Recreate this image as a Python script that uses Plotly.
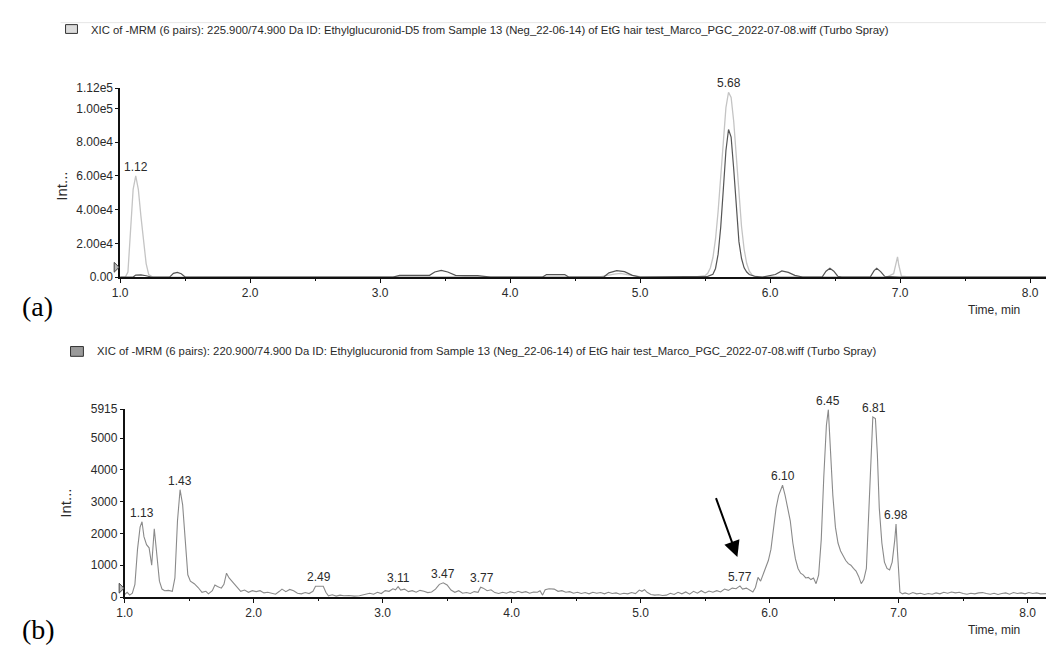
import plotly.graph_objects as go

# ---------------- Panel (a) data ----------------
t_a_light = [1.00, 1.04, 1.06, 1.08, 1.10, 1.12, 1.14, 1.16, 1.18, 1.20, 1.22, 1.25,
             2.00, 3.00, 4.00, 4.70, 4.80, 4.85, 4.90, 5.00, 5.44, 5.48,
             5.50, 5.52, 5.54, 5.56, 5.58, 5.60, 5.62, 5.64, 5.66, 5.68, 5.70, 5.72,
             5.74, 5.76, 5.78, 5.80, 5.82, 5.84, 5.86, 5.88, 5.92, 6.00,
             6.90, 6.95, 6.97, 6.98, 6.99, 7.01, 7.05, 8.15]
v_a_light = [0, 0, 3000, 25000, 52000, 60000, 52000, 36000, 20000, 8000, 1500, 0,
             200, 300, 300, 300, 1800, 2200, 1500, 300, 200, 400,
             800, 2200, 5400, 11600, 22600, 39000, 60000, 82000, 100500, 109600, 106500, 92300,
             71200, 49000, 30000, 16500, 8000, 3500, 1400, 500, 100, 200,
             200, 2000, 9000, 12000, 7000, 500, 200, 200]

t_a_dark = [1.00, 1.10, 1.12, 1.16, 1.20, 1.24, 1.38, 1.41, 1.44, 1.47, 1.50,
            3.10, 3.15, 3.30, 3.38, 3.42, 3.47, 3.52, 3.58, 3.65, 3.75, 3.85,
            4.25, 4.28, 4.42, 4.45, 4.72, 4.76, 4.82, 4.88, 4.94, 5.00,
            5.48, 5.52, 5.56, 5.58, 5.60, 5.62, 5.64, 5.66, 5.68, 5.70, 5.72, 5.74,
            5.76, 5.78, 5.80, 5.82, 5.84, 5.88, 5.94,
            6.04, 6.09, 6.14, 6.19, 6.25, 6.40, 6.43, 6.46, 6.49, 6.52, 6.55,
            6.77, 6.80, 6.82, 6.85, 6.88, 7.00, 8.15]
v_a_dark = [0, 0, 1200, 1300, 800, 0, 0, 2200, 2800, 2000, 0,
            0, 1000, 1200, 1000, 3000, 4000, 3000, 1000, 800, 800, 0,
            0, 1500, 1500, 0, 0, 2500, 3800, 3200, 1000, 0,
            0, 400, 1600, 5100, 13600, 29600, 52000, 75000, 87500, 83000, 64000, 40000,
            21000, 11000, 5500, 3000, 1500, 500, 0,
            1500, 3600, 2800, 1000, 0, 0, 3500, 5200, 3500, 500, 0,
            0, 3800, 5200, 3200, 500, 0, 0]

a_peak_x = [1.12, 5.68]
a_peak_y = [60000, 109600]
a_peak_lbl = ["1.12", "5.68"]

a_ytick_vals = [0, 20000, 40000, 60000, 80000, 100000, 112000]
a_ytick_text = ["0.00", "2.00e4", "4.00e4", "6.00e4", "8.00e4", "1.00e5", "1.12e5"]

# ---------------- Panel (b) data ----------------
t_b = [1.00, 1.02, 1.04, 1.06, 1.08, 1.10, 1.12, 1.135, 1.15, 1.17, 1.19, 1.21, 1.23, 1.25,
       1.27, 1.29, 1.31, 1.34, 1.37, 1.39, 1.41, 1.43, 1.45, 1.47, 1.49, 1.51, 1.54, 1.57,
       1.60, 1.63, 1.65, 1.68, 1.70, 1.72, 1.75, 1.77, 1.79, 1.81, 1.84, 1.87, 1.90, 1.93,
       1.96, 1.99, 2.02, 2.05, 2.08, 2.11, 2.14, 2.17, 2.20, 2.22, 2.25, 2.28, 2.31, 2.34,
       2.37, 2.40, 2.43, 2.46, 2.48, 2.51, 2.54, 2.56, 2.58, 2.61, 2.64, 2.67, 2.70, 2.74,
       2.78, 2.82, 2.86, 2.90, 2.93, 2.96, 2.99, 3.02, 3.05, 3.08, 3.10, 3.12, 3.14, 3.17,
       3.20, 3.23, 3.26, 3.29, 3.32, 3.35, 3.38, 3.41, 3.44, 3.47, 3.50, 3.53, 3.56, 3.59,
       3.62, 3.65, 3.68, 3.71, 3.74, 3.76, 3.78, 3.81, 3.84, 3.87, 3.90, 3.93, 3.96, 3.99,
       4.02, 4.05, 4.08, 4.11, 4.14, 4.17, 4.20, 4.22, 4.24, 4.26, 4.29, 4.33, 4.36, 4.39,
       4.42, 4.45, 4.48, 4.51, 4.54, 4.57, 4.60, 4.63, 4.66, 4.69, 4.72, 4.75, 4.78, 4.81,
       4.84, 4.87, 4.90, 4.93, 4.96, 4.99, 5.01, 5.03, 5.05, 5.08, 5.11, 5.14, 5.17, 5.20,
       5.23, 5.26, 5.29, 5.32, 5.35, 5.38, 5.41, 5.44, 5.47, 5.50, 5.53, 5.56, 5.59, 5.62,
       5.65, 5.68, 5.71, 5.74, 5.77, 5.79, 5.82, 5.85, 5.87, 5.89, 5.91, 5.93, 5.95, 5.97,
       5.99, 6.01, 6.03, 6.05, 6.07, 6.09, 6.10, 6.12, 6.14, 6.16, 6.18, 6.20, 6.22, 6.24,
       6.26, 6.28, 6.30, 6.32, 6.34, 6.36, 6.38, 6.40, 6.42, 6.44, 6.455, 6.47, 6.49, 6.51,
       6.53, 6.55, 6.57, 6.59, 6.61, 6.63, 6.65, 6.67, 6.69, 6.71, 6.73, 6.75, 6.77, 6.785,
       6.80, 6.82, 6.835, 6.85, 6.87, 6.89, 6.91, 6.93, 6.95, 6.97, 6.98, 6.99, 7.00, 7.01,
       7.03, 7.05, 7.08, 7.11, 7.14, 7.17, 7.20, 7.23, 7.26, 7.29, 7.32, 7.35, 7.38, 7.41,
       7.44, 7.47, 7.50, 7.53, 7.56, 7.59, 7.62, 7.65, 7.68, 7.71, 7.74, 7.77, 7.80, 7.83,
       7.86, 7.89, 7.92, 7.95, 7.98, 8.01, 8.04, 8.07, 8.10, 8.13, 8.15]
v_b = [80, 150, 60, 120, 400, 1500, 2200, 2370, 1900, 1650, 1550, 1000, 2150, 1200,
       500, 250, 200, 210, 180, 600, 2400, 3380, 2900, 1800, 700, 500, 420, 300,
       150, 180, 100, 200, 380, 330, 280, 400, 750, 600, 450, 300, 180, 220,
       150, 200, 170, 200, 130, 150, 110, 90, 180, 250, 170, 240, 200, 120,
       100, 140, 110, 180, 340, 350, 340, 150, 40, 70, 30, 60, 40, 50,
       30, 40, 80, 120, 90, 150, 110, 200, 180, 260, 230, 330, 220, 250,
       170, 200, 150, 210, 180, 140, 160, 250, 400, 450, 380, 220, 150, 200,
       120, 140, 110, 170, 150, 310, 280, 200, 230, 140, 110, 150, 120, 170,
       130, 180, 140, 170, 120, 160, 150, 200, 60, 230, 260, 250, 180, 200,
       150, 170, 120, 150, 110, 140, 100, 150, 120, 140, 100, 150, 110, 130,
       90, 120, 100, 140, 110, 220, 180, 230, 150, 80, 60, 70, 50, 60,
       120, 80, 150, 100, 160, 90, 180, 120, 200, 130, 190, 150, 200, 160,
       250, 210, 280, 260, 350, 250, 280, 200, 160, 300, 620, 500, 700, 950,
       1150, 1500, 2200, 2800, 3200, 3450, 3520, 3200, 2850, 2400, 1700, 1200, 900, 750,
       700, 600, 620, 550, 600, 420, 700, 1800, 3800, 5400, 5900, 4800, 3200, 2200,
       1700, 1450, 1300, 1150, 1050, 1000, 900, 820, 650, 420, 550, 900, 2800, 4500,
       5670, 5620, 4500, 2800, 1700, 1100, 900, 850, 1100, 1800, 2300, 1500, 600, 150,
       100, 130, 90, 140, 100, 120, 80, 110, 90, 130, 100, 150, 120, 160,
       130, 150, 110, 90, 120, 100, 130, 140, 110, 90, 120, 80, 110, 130,
       90, 140, 110, 130, 100, 140, 110, 130, 100, 120, 110]

b_peak_x = [1.135, 1.43, 2.51, 3.12, 3.47, 3.77, 5.77, 6.10, 6.455, 6.81, 6.98]
b_peak_y = [2370, 3380, 350, 330, 450, 310, 350, 3520, 5900, 5670, 2300]
b_peak_lbl = ["1.13", "1.43", "2.49", "3.11", "3.47", "3.77", "5.77", "6.10", "6.45", "6.81", "6.98"]

b_ytick_vals = [0, 1000, 2000, 3000, 4000, 5000, 5915]
b_ytick_text = ["0", "1000", "2000", "3000", "4000", "5000", "5915"]

x_tick_vals = [1, 2, 3, 4, 5, 6, 7, 8]
x_tick_text = ["1.0", "2.0", "3.0", "4.0", "5.0", "6.0", "7.0", "8.0"]

title_a = ("XIC of -MRM (6 pairs): 225.900/74.900 Da ID: Ethylglucuronid-D5 from Sample 13 "
           "(Neg_22-06-14) of EtG hair test_Marco_PGC_2022-07-08.wiff (Turbo Spray)")
title_b = ("XIC of -MRM (6 pairs): 220.900/74.900 Da ID: Ethylglucuronid from Sample 13 "
           "(Neg_22-06-14) of EtG hair test_Marco_PGC_2022-07-08.wiff (Turbo Spray)")

# ---------------- Layout helpers ----------------
W, H = 1046, 651
def px(x):
    return x / W
def py(y):
    return 1 - y / H

FONT = "Liberation Sans, Arial, sans-serif"
SERIF = "Liberation Serif, Times New Roman, serif"
TXT = "#2a2a2a"

fig = go.Figure()

fig.add_trace(go.Scatter(x=t_a_light, y=v_a_light, mode="lines", xaxis="x", yaxis="y",
                         line=dict(color="#c4c4c4", width=1.3), hoverinfo="skip"))
fig.add_trace(go.Scatter(x=t_a_dark, y=v_a_dark, mode="lines", xaxis="x", yaxis="y",
                         line=dict(color="#555555", width=1.2), hoverinfo="skip"))
fig.add_trace(go.Scatter(x=t_b, y=v_b, mode="lines", xaxis="x2", yaxis="y2",
                         line=dict(color="#8a8a8a", width=1.1), hoverinfo="skip"))

xa0, xa_ppm = 113, 131.0
xb0, xb_ppm = 117.5, 130.0

common_x = dict(showgrid=False, zeroline=False, showline=True, linecolor="#111",
                linewidth=2, ticks="outside", ticklen=4, tickwidth=1, tickcolor="#111",
                tickvals=x_tick_vals, ticktext=x_tick_text,
                tickfont=dict(family=FONT, size=12, color=TXT),
                minor=dict(tickvals=[1.5, 2.5, 3.5, 4.5, 5.5, 6.5, 7.5], ticks="outside",
                           ticklen=2, tickcolor="#111"))
common_y = dict(showgrid=False, zeroline=False, showline=True, linecolor="#111",
                linewidth=1.5, ticks="outside", ticklen=3, tickwidth=1, tickcolor="#111",
                tickfont=dict(family=FONT, size=12, color=TXT))

fig.update_layout(
    width=W, height=H, margin=dict(l=0, r=0, t=0, b=0),
    paper_bgcolor="white", plot_bgcolor="white", showlegend=False,
    xaxis=dict(domain=[px(xa0), 1], range=[1, 1 + (W - xa0) / xa_ppm], anchor="y", **common_x),
    yaxis=dict(domain=[py(276), py(83)], range=[0, 112000], anchor="x",
               tickvals=a_ytick_vals, ticktext=a_ytick_text, **common_y),
    xaxis2=dict(domain=[px(xb0), 1], range=[1, 1 + (W - xb0) / xb_ppm], anchor="y2", **common_x),
    yaxis2=dict(domain=[py(603), py(411)], range=[0, 5915], anchor="x2",
                tickvals=b_ytick_vals, ticktext=b_ytick_text, **common_y),
)

ann = []
for x, y, s in zip(a_peak_x, a_peak_y, a_peak_lbl):
    ann.append(dict(x=x, y=y, xref="x", yref="y", text=s, showarrow=False,
                    yanchor="bottom", yshift=0, font=dict(family=FONT, size=12, color=TXT)))
for x, y, s in zip(b_peak_x, b_peak_y, b_peak_lbl):
    ann.append(dict(x=x, y=y, xref="x2", yref="y2", text=s, showarrow=False,
                    yanchor="bottom", yshift=0, font=dict(family=FONT, size=12, color=TXT)))

# arrow pointing at 5.77
ann.append(dict(x=5.75, y=1260, xref="x2", yref="y2", ax=5.58, ay=3160, axref="x2", ayref="y2",
                text="", showarrow=True, arrowhead=2, arrowsize=1.6, arrowwidth=2,
                arrowcolor="#000"))

# titles
ann.append(dict(x=px(82), y=py(23), xref="paper", yref="paper", text=title_a, showarrow=False,
                xanchor="left", yanchor="middle", font=dict(family=FONT, size=11.3, color=TXT)))
ann.append(dict(x=px(88), y=py(352), xref="paper", yref="paper", text=title_b, showarrow=False,
                xanchor="left", yanchor="middle", font=dict(family=FONT, size=11.3, color=TXT)))

# y titles
ann.append(dict(x=px(53), y=py(183), xref="paper", yref="paper", text="Int...", showarrow=False,
                textangle=-90, xanchor="center", yanchor="middle",
                font=dict(family=FONT, size=15, color=TXT)))
ann.append(dict(x=px(58), y=py(507), xref="paper", yref="paper", text="Int...", showarrow=False,
                textangle=-90, xanchor="center", yanchor="middle",
                font=dict(family=FONT, size=15, color=TXT)))

# x titles
ann.append(dict(x=px(1022), y=py(310), xref="paper", yref="paper", text="Time, min", showarrow=False,
                xanchor="right", yanchor="middle", font=dict(family=FONT, size=12, color=TXT)))
ann.append(dict(x=px(1022), y=py(637), xref="paper", yref="paper", text="Time, min", showarrow=False,
                xanchor="right", yanchor="middle", font=dict(family=FONT, size=12, color=TXT)))

# panel letters
ann.append(dict(x=px(12), y=py(306), xref="paper", yref="paper", text="(a)", showarrow=False,
                xanchor="left", yanchor="middle", font=dict(family=SERIF, size=28, color="#000")))
ann.append(dict(x=px(12), y=py(636), xref="paper", yref="paper", text="(b)", showarrow=False,
                xanchor="left", yanchor="middle", font=dict(family=SERIF, size=28, color="#000")))

fig.update_layout(annotations=ann)

shapes = []
# faint top rule
shapes.append(dict(type="line", xref="paper", yref="paper", x0=px(53), x1=1, y0=py(16), y1=py(16),
                   line=dict(color="#e6e6e6", width=1)))
# legend boxes
shapes.append(dict(type="rect", xref="paper", yref="paper", x0=px(58), x1=px(70), y0=py(27), y1=py(18),
                   fillcolor="#dcdcdc", line=dict(color="#333", width=1)))
shapes.append(dict(type="rect", xref="paper", yref="paper", x0=px(63), x1=px(76), y0=py(357), y1=py(347),
                   fillcolor="#9a9a9a", line=dict(color="#333", width=1)))
# small baseline triangles
shapes.append(dict(type="path", xref="paper", yref="paper",
                   path=f"M {px(107)},{py(261)} L {px(112)},{py(266)} L {px(107)},{py(271)} Z",
                   fillcolor="#bbbbbb", line=dict(color="#444", width=1)))
shapes.append(dict(type="path", xref="paper", yref="paper",
                   path=f"M {px(112)},{py(589)} L {px(117)},{py(594)} L {px(112)},{py(599)} Z",
                   fillcolor="#bbbbbb", line=dict(color="#444", width=1)))
fig.update_layout(shapes=shapes)

fig.write_html("out.html")
